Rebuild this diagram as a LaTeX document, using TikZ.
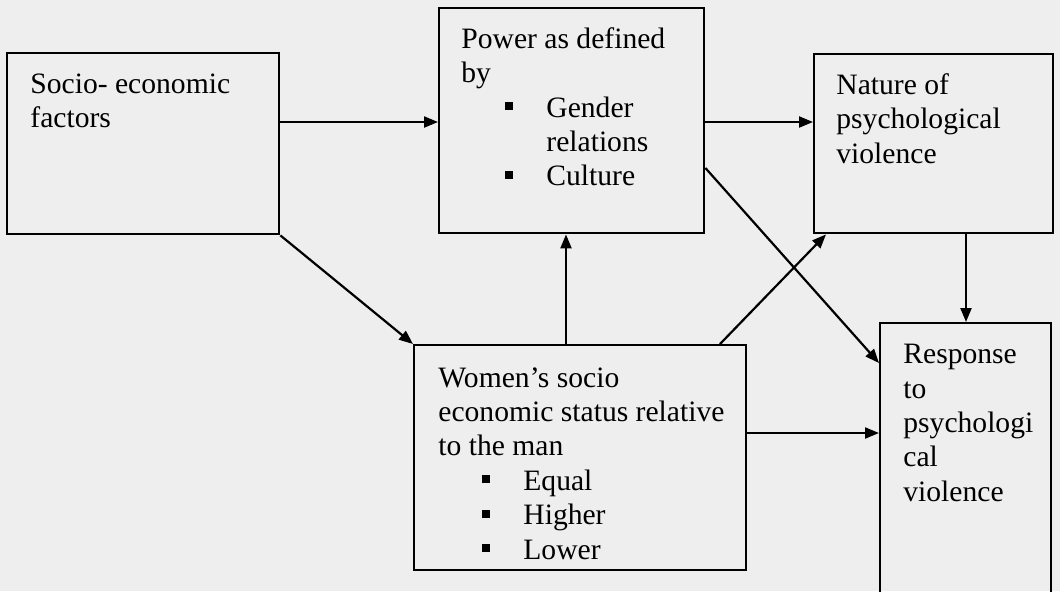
\documentclass[tikz,border=0pt]{standalone}
\usepackage{fontspec}
\setmainfont{Liberation Serif}
\usetikzlibrary{arrows.meta}
\definecolor{scan}{RGB}{238,238,238}
\tikzstyle{box}=[rectangle, draw=black, line width=1.2pt, inner sep=0pt, anchor=north west]
\tikzstyle{annot}=[align=left, inner sep=0pt, anchor=north west, font=\fontsize{14.8pt}{17.2pt}\selectfont]
\tikzstyle{arr}=[line width=1.1pt, -{Triangle[length=7pt,width=5.5pt]}]
\newcommand{\sqbul}{\rule[3.5pt]{4pt}{4pt}}
\newcommand{\itm}[1]{\hspace*{22pt}\makebox[20.5pt][l]{\sqbul}#1}

\begin{document}
\begin{tikzpicture}[x=0.5pt, y=-0.5pt]
	\fill[scan] (0,0) rectangle (1060,591);
	\useasboundingbox (0,0) rectangle (1060,591);

	% boxes
	\node[box, minimum width=136pt, minimum height=90.5pt](socio) at (6,52){};
	\node[box, minimum width=132.5pt, minimum height=112.5pt](power) at (438,7){};
	\node[box, minimum width=119.5pt, minimum height=89.5pt](nature) at (813,53){};
	\node[box, minimum width=166pt, minimum height=112.5pt](women) at (413,344){};
	\node[box, minimum width=85.5pt, minimum height=150pt](response) at (879,322){};

	% texts
	\node[annot](sociotxt) at (30,73) {Socio- economic\\factors};
	\node[annot](powertxt) at (461,27) {Power as defined\\by\\\itm{Gender}\\\hspace*{42.5pt}relations\\\itm{Culture}};
	\node[annot](naturetxt) at (836,73) {Nature of\\psychological\\violence};
	\node[annot](womentxt) at (438,367) {Women’s socio\\economic status relative\\to the man\\\itm{Equal}\\\itm{Higher}\\\itm{Lower}};
	\node[annot](responsetxt) at (903,344) {Response\\to\\psychologi\\cal\\violence};

	% arrows
	\draw[arr] (socio.east |- 0,122) -- (power.west |- 0,122);
	\draw[arr] (power.east |- 0,122) -- (nature.west |- 0,122);
	\draw[arr] (socio.south east) -- (women.north west);
	\draw[arr] (women.north -| 566,0) -- (power.south -| 566,0);
	\draw[arr] (women.north -| 720,0) -- ([xshift=6.5pt]nature.south west);
	\draw[arr] (power.east |- 0,168) -- (response.west |- 0,363);
	\draw[arr] (nature.south -| 966,0) -- (response.north -| 966,0);
	\draw[arr] (women.east |- 0,433) -- (response.west |- 0,433);
\end{tikzpicture}
\end{document}
